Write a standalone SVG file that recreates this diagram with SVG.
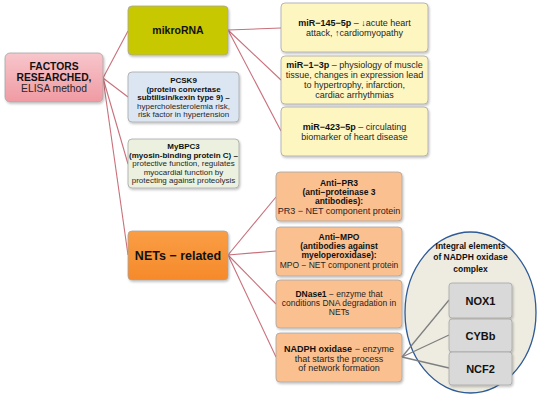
<svg xmlns="http://www.w3.org/2000/svg" width="550" height="401" viewBox="0 0 550 401">
<defs>
<filter id="sh" x="-10%" y="-10%" width="130%" height="140%"><feDropShadow dx="1" dy="1.5" stdDeviation="1" flood-color="#000" flood-opacity="0.25"/></filter>
<linearGradient id="gPink" x1="0" y1="0" x2="0" y2="1"><stop offset="0" stop-color="#f7c6cb"/><stop offset="1" stop-color="#f09aa3"/></linearGradient>
<linearGradient id="gOrange" x1="0" y1="0" x2="0" y2="1"><stop offset="0" stop-color="#fa9d45"/><stop offset="1" stop-color="#f58a2a"/></linearGradient>
</defs>
<style>
.box{stroke:#a6a6a6;stroke-width:0.8;filter:url(#sh)}
text{font-family:"Liberation Sans",Arial,sans-serif;fill:#262626;text-anchor:middle}
.b{font-weight:bold;fill:#111}
.s8{font-size:8px}
.s85{font-size:8.5px}
.s9{font-size:9px}
.con{stroke:#c8707b;stroke-width:1.1;fill:none}
.gcon{stroke:#7f7f7f;stroke-width:1.3;fill:none}
</style>
<g id="connectors">
<line class="con" x1="103" y1="78" x2="128" y2="31"/>
<line class="con" x1="103" y1="78" x2="128" y2="97"/>
<line class="con" x1="103" y1="78" x2="128" y2="164"/>
<line class="con" x1="103" y1="78" x2="128" y2="255"/>
<line class="con" x1="228" y1="30" x2="281" y2="28"/>
<line class="con" x1="228" y1="30" x2="281" y2="80"/>
<line class="con" x1="228" y1="30" x2="281" y2="131"/>
<line class="con" x1="228" y1="255" x2="276" y2="197"/>
<line class="con" x1="228" y1="255" x2="276" y2="251"/>
<line class="con" x1="228" y1="255" x2="276" y2="304"/>
<line class="con" x1="228" y1="255" x2="276" y2="357"/>
</g>
<g id="factors"><rect class="box" x="5" y="53" width="98" height="49" rx="5" fill="url(#gPink)"/>
<text x="54" y="70" class="b" font-size="10.3">FACTORS</text><text x="54" y="81" class="b" font-size="10.3">RESEARCHED,</text><text x="54" y="92" font-size="10.3">ELISA method</text></g>
<g id="mikrorna"><rect class="box" x="128" y="6" width="100" height="49" rx="4" fill="#c8c800"/>
<text x="178" y="34" class="b" font-size="10.5">mikroRNA</text></g>
<g id="pcsk9"><rect class="box" x="128" y="72" width="111" height="50" rx="4" fill="#dce6f2"/>
<text class="s8 b" x="183.5" y="83">PCSK9</text>
<text class="s8 b" x="183.5" y="91.5">(protein convertase</text>
<text class="s8 b" x="183.5" y="100">subtilisin/kexin type 9) –</text>
<text class="s8" x="183.5" y="108.5">hypercholesterolemia risk,</text>
<text class="s8" x="183.5" y="117">risk factor in hypertension</text></g>
<g id="mybpc3"><rect class="box" x="128" y="139" width="111" height="49" rx="4" fill="#ebf1de"/>
<text class="s8 b" x="183.5" y="149">MyBPC3</text>
<text class="s8 b" x="183.5" y="157.5">(myosin-binding protein C) –</text>
<text class="s8" x="183.5" y="166">protective function, regulates</text>
<text class="s8" x="183.5" y="174.5">myocardial function by</text>
<text class="s8" x="183.5" y="183">protecting against proteolysis</text></g>
<g id="nets"><rect class="box" x="128" y="231" width="100" height="49" rx="4" fill="url(#gOrange)"/>
<text x="178" y="260" class="b" font-size="12.5">NETs − related</text></g>
<g id="mir145"><rect class="box" x="281" y="3" width="147" height="49" rx="4" fill="#fdf6c0"/>
<text class="s9" x="354.5" y="26"><tspan class="b">miR−145−5p</tspan> – ↓acute heart</text>
<text class="s9" x="354.5" y="36">attack, ↑cardiomyopathy</text></g>
<g id="mir1"><rect class="box" x="281" y="56" width="147" height="48" rx="4" fill="#fdf6c0"/>
<text class="s9" x="354.5" y="67.5"><tspan class="b">miR−1−3p</tspan> – physiology of muscle</text>
<text class="s9" x="354.5" y="77.5">tissue, changes in expression lead</text>
<text class="s9" x="354.5" y="87.5">to hypertrophy, infarction,</text>
<text class="s9" x="354.5" y="97.5">cardiac arrhythmias</text></g>
<g id="mir423"><rect class="box" x="281" y="107" width="147" height="49" rx="4" fill="#fdf6c0"/>
<text class="s9" x="354.5" y="130"><tspan class="b">miR−423−5p</tspan> – circulating</text>
<text class="s9" x="354.5" y="140">biomarker of heart disease</text></g>
<g id="antipr3"><rect class="box" x="276" y="172" width="126" height="49" rx="4" fill="#fac090"/>
<text class="s85 b" x="339" y="186">Anti−PR3</text>
<text class="s85 b" x="339" y="195">(anti−proteinase 3</text>
<text class="s85 b" x="339" y="204">antibodies):</text>
<text class="s9" x="339" y="213.5">PR3 − NET component protein</text></g>
<g id="antimpo"><rect class="box" x="276" y="227" width="126" height="49" rx="4" fill="#fac090"/>
<text class="s85 b" x="339" y="240">Anti−MPO</text>
<text class="s85 b" x="339" y="249">(antibodies against</text>
<text class="s85 b" x="339" y="258">myeloperoxidase):</text>
<text class="s85" x="339" y="267.5">MPO − NET component protein</text></g>
<g id="dnase1"><rect class="box" x="276" y="280" width="126" height="48" rx="4" fill="#fac090"/>
<text class="s85" x="339" y="297"><tspan class="b">DNase1</tspan> − enzyme that</text>
<text class="s85" x="339" y="306">conditions DNA degradation in</text>
<text class="s85" x="339" y="315">NETs</text></g>
<g id="nadph"><rect class="box" x="276" y="333" width="126" height="49" rx="4" fill="#fac090"/>
<text class="s9" x="339" y="352"><tspan class="b">NADPH oxidase</tspan> − enzyme</text>
<text class="s9" x="339" y="361.5">that starts the process</text>
<text class="s9" x="339" y="371">of network formation</text></g>
<g id="complex"><ellipse cx="470.5" cy="312.5" rx="65.5" ry="80.5" fill="#eeece1" stroke="#2e5a96" stroke-width="1.3"/>
<text class="s85 b" x="470.5" y="249">Integral elements</text>
<text class="s85 b" x="470.5" y="260">of NADPH oxidase</text>
<text class="s85 b" x="470.5" y="272">complex</text></g>
<g id="gconnectors">
<line class="gcon" x1="402" y1="357" x2="449" y2="300"/>
<line class="gcon" x1="402" y1="357" x2="449" y2="335"/>
<line class="gcon" x1="402" y1="357" x2="449" y2="368"/>
</g>
<g id="nox1"><rect class="box" x="449" y="283" width="63" height="35" rx="3" fill="#d9d9d9"/><text x="480.5" y="304.5" class="b" font-size="11">NOX1</text></g>
<g id="cybb"><rect class="box" x="449" y="319" width="63" height="33" rx="3" fill="#d9d9d9"/><text x="480.5" y="339.5" class="b" font-size="11">CYBb</text></g>
<g id="ncf2"><rect class="box" x="449" y="352" width="63" height="33" rx="3" fill="#d9d9d9"/><text x="480.5" y="372.5" class="b" font-size="11">NCF2</text></g>
</svg>
